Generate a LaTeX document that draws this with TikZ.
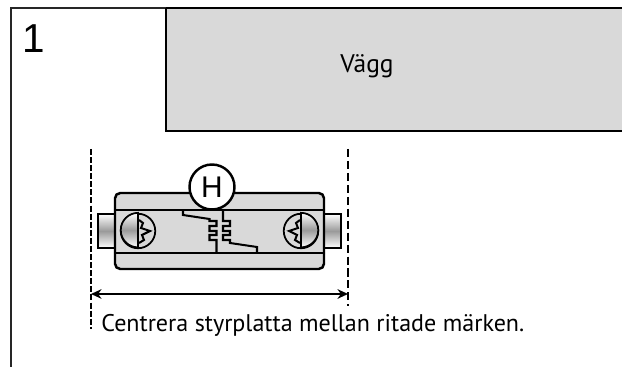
\documentclass[tikz,border=0pt]{standalone}
\usepackage{fontspec}
\setmainfont{PT Sans}
\newfontfamily\plainfont{Liberation Sans}
\usepackage{tkz-euclide}
\definecolor{wallgray}{HTML}{D9D9D9}
\definecolor{capgray}{HTML}{9A9A9A}
\tikzset{
  thickline/.style={line width=1.4pt,black},
  thinframe/.style={line width=.8pt,black!85},
  slotline/.style={line width=1.15pt,black},
  sideblock/.style={line width=.9pt,draw=black,top color=white,bottom color=white,middle color=capgray},
  screwbody/.style={circle,draw,line width=1pt,minimum size=.69cm,inner sep=0pt},
}
\begin{document}
\begin{tikzpicture}[x=.02cm,y=-.02cm]
\useasboundingbox (0,0) rectangle (622,367);

\tkzDefPoint(11,367){fA}
\tkzDefPoint(11,8){fB}
\tkzDefPoint(622,8){fC}
\tkzDefPoint(166,8){wA}
\tkzDefPoint(622,131){wB}
\tkzDefPoint(166,131){wC}

% wall
\fill[wallgray] (wA) rectangle (wB);
\draw[thinframe] (fA) -- (fB) -- (wA);
\draw[thickline] (wA) -- (fC);
\draw[thickline] (wA) -- (wC) -- (wB);

\node[anchor=base,inner sep=0pt,font=\plainfont\fontsize{23pt}{23pt}\selectfont] (num) at (34,53) {1};
\node[anchor=base west,inner sep=0pt,font=\fontsize{14.5pt}{15pt}\selectfont] (wall) at (340,73) {Vägg};

% plate
\draw[sideblock] (98,214) rectangle (115,248);
\draw[sideblock] (324,214) rectangle (341,248);
\draw[thickline,fill=wallgray,rounded corners=3pt] (115,193) rectangle (324,269);

\tkzDefPoint(115,210){pA}
\tkzDefPoint(324,210){pB}
\tkzDefPoint(115,253){pC}
\tkzDefPoint(324,253){pD}
\tkzDrawSegment[thickline](pA,pB)
\tkzDrawSegment[thickline](pC,pD)

% screws
\node[screwbody] (sL) at (138,231) {};
\node[screwbody] (sR) at (301,231) {};
\draw[sideblock,line width=1pt] (sL.north) arc[start angle=90,end angle=270,radius=.345cm] -- cycle;
\draw[sideblock,line width=1pt] (sR.north) arc[start angle=90,end angle=-90,radius=.345cm] -- cycle;
\draw[slotline] (139,220) -- (143,223) -- (141,228) -- (150,231) -- (142,235) -- (144,240) -- (139,243);
\draw[slotline] (300,220) -- (296,223) -- (298,228) -- (289,231) -- (297,235) -- (295,240) -- (300,243);

% slot
\draw[slotline] (183,210) -- (183,215) -- (209.5,219) -- (209.5,221) -- (216.5,221) -- (216.5,226) -- (209.5,226)
  -- (209.5,231) -- (216.5,231) -- (216.5,235) -- (209.5,235) -- (209.5,240) -- (216.5,240) -- (216.5,253);
\draw[slotline] (223,210) -- (223,221) -- (230,221) -- (230,226) -- (223,226) -- (223,231) -- (230,231)
  -- (230,235) -- (223,235) -- (223,240) -- (230,240) -- (230,243) -- (257,247) -- (257,253);

% H
\node[circle,draw,thickline,fill=white,minimum size=.9cm,inner sep=0pt,
  font=\plainfont\fontsize{17pt}{17pt}\selectfont] (hmark) at (212,187) {H};

% marks
\tkzDefPoint(91,149){mA}
\tkzDefPoint(91,329){mB}
\tkzDefPoint(348,149){mC}
\tkzDefPoint(348,306){mD}
\draw[line width=1.3pt,dash pattern=on 3.4pt off 1.2pt] (mA) -- (mB);
\draw[line width=1.6pt,dash pattern=on 4.6pt off 2.2pt] (mC) -- (mD);

\coordinate (arL) at (91,294);
\coordinate (arR) at (348,294);
\draw[line width=.85pt,{Stealth[length=6pt,width=5.5pt]}-{Stealth[length=6pt,width=5.5pt]}] (arL) -- (arR);

\node[anchor=base west,inner sep=0pt,font=\fontsize{13.7pt}{14pt}\selectfont] (note) at (101,332) {Centrera styrplatta mellan ritade märken.};
\end{tikzpicture}
\end{document}
